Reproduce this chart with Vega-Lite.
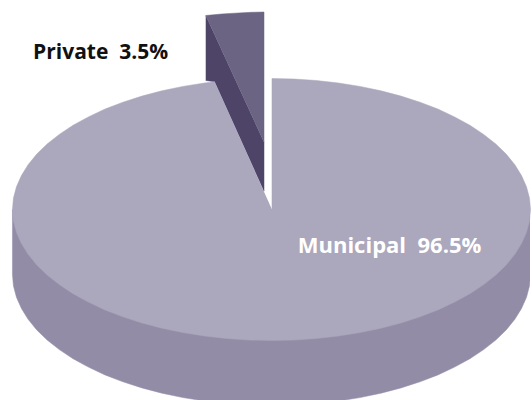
{
  "$schema": "https://vega.github.io/schema/vega-lite/v6.json",
  "width": 532,
  "height": 400,
  "padding": 0,
  "autosize": {"type": "fit", "contains": "padding"},
  "background": "white",
  "view": {"stroke": null},
  "datasets": {
    "municipalSide": [
      {"x":-260,"y":0},{"x":-260,"y":-65},{"x":-259,"y":-76.4},{"x":-256,"y":-87.7},{"x":-251,"y":-98.9},{"x":-244.3,"y":-109.8},{"x":-235.6,"y":-120.4},{"x":-225.2,"y":-130.5},{"x":-213,"y":-140.1},{"x":-199.2,"y":-149.2},{"x":-183.8,"y":-157.6},{"x":-167.1,"y":-165.4},{"x":-149.1,"y":-172.3},{"x":-130,"y":-178.4},{"x":-109.9,"y":-183.7},{"x":-88.9,"y":-188.1},{"x":-67.3,"y":-191.5},{"x":-45.1,"y":-194},{"x":-22.7,"y":-195.5},{"x":0,"y":-196},
      {"x":22.7,"y":-195.5},{"x":45.1,"y":-194},{"x":67.3,"y":-191.5},{"x":88.9,"y":-188.1},{"x":109.9,"y":-183.7},{"x":130,"y":-178.4},{"x":149.1,"y":-172.3},{"x":167.1,"y":-165.4},{"x":183.8,"y":-157.6},{"x":199.2,"y":-149.2},{"x":213,"y":-140.1},{"x":225.2,"y":-130.5},{"x":235.6,"y":-120.4},{"x":244.3,"y":-109.8},{"x":251,"y":-98.9},{"x":256,"y":-87.7},{"x":259,"y":-76.4},{"x":260,"y":-65},{"x":260,"y":0}
    ],
    "privateInner": [
      {"x":-66,"y":194},{"x":-7.5,"y":67.3},{"x":-7.5,"y":18.4},{"x":-57,"y":127.8},{"x":-66,"y":129}
    ],
    "privateTop": [
      {"x":-66,"y":194},{"x":-50,"y":195.5},{"x":-37,"y":196.3},{"x":-20,"y":197.2},{"x":-7.5,"y":197.5},{"x":-7.5,"y":67.3}
    ],
    "municipalTop": [
      {"x":0.5,"y":0},{"x":0.5,"y":131},{"x":22.7,"y":130.5},{"x":45.1,"y":129},{"x":67.3,"y":126.5},{"x":88.9,"y":123.1},{"x":109.9,"y":118.7},{"x":130,"y":113.4},{"x":149.1,"y":107.3},{"x":167.1,"y":100.4},{"x":183.8,"y":92.6},{"x":199.2,"y":84.2},{"x":213,"y":75.1},{"x":225.2,"y":65.5},{"x":235.6,"y":55.4},{"x":244.3,"y":44.8},{"x":251,"y":33.9},{"x":256,"y":22.7},{"x":259,"y":11.4},{"x":260,"y":0},
      {"x":259,"y":-11.4},{"x":256,"y":-22.7},{"x":251,"y":-33.9},{"x":244.3,"y":-44.8},{"x":235.6,"y":-55.4},{"x":225.2,"y":-65.5},{"x":213,"y":-75.1},{"x":199.2,"y":-84.2},{"x":183.8,"y":-92.6},{"x":167.1,"y":-100.4},{"x":149.1,"y":-107.3},{"x":130,"y":-113.4},{"x":109.9,"y":-118.7},{"x":88.9,"y":-123.1},{"x":67.3,"y":-126.5},{"x":45.1,"y":-129},{"x":22.7,"y":-130.5},{"x":0,"y":-131},
      {"x":-22.7,"y":-130.5},{"x":-45.1,"y":-129},{"x":-67.3,"y":-126.5},{"x":-88.9,"y":-123.1},{"x":-109.9,"y":-118.7},{"x":-130,"y":-113.4},{"x":-149.1,"y":-107.3},{"x":-167.1,"y":-100.4},{"x":-183.8,"y":-92.6},{"x":-199.2,"y":-84.2},{"x":-213,"y":-75.1},{"x":-225.2,"y":-65.5},{"x":-235.6,"y":-55.4},{"x":-244.3,"y":-44.8},{"x":-251,"y":-33.9},{"x":-256,"y":-22.7},{"x":-259,"y":-11.4},{"x":-260,"y":0},
      {"x":-259,"y":11.4},{"x":-256,"y":22.7},{"x":-251,"y":33.9},{"x":-244.3,"y":44.8},{"x":-235.6,"y":55.4},{"x":-225.2,"y":65.5},{"x":-213,"y":75.1},{"x":-199.2,"y":84.2},{"x":-183.8,"y":92.6},{"x":-167.1,"y":100.4},{"x":-149.1,"y":107.3},{"x":-130,"y":113.4},{"x":-109.9,"y":118.7},{"x":-88.9,"y":123.1},{"x":-67.3,"y":126.5},{"x":-57,"y":127.8}
    ],
    "privateLabel": [
      {"x":-171.5,"y":157,"label":"Private\u00a0 3.5%"}
    ],
    "municipalLabel": [
      {"x":118.5,"y":-36,"label":"Municipal\u00a0 96.5%"}
    ]
  },
  "encoding": {
    "x": {"field":"x","type":"quantitative","axis":null,"scale":{"domain":[-272.5,259.5],"nice":false,"zero":false}},
    "y": {"field":"y","type":"quantitative","axis":null,"scale":{"domain":[-190.5,209.5],"nice":false,"zero":false}}
  },
  "layer": [
    {"data":{"name":"municipalSide"},"mark":{"type":"line","fill":"#938ca7","stroke":"#938ca7","strokeWidth":0.5,"clip":true},"encoding":{"order":{"value":null}}},
    {"data":{"name":"privateInner"},"mark":{"type":"line","fill":"#4e4468","stroke":"#4e4468","strokeWidth":0.5},"encoding":{"order":{"value":null}}},
    {"data":{"name":"privateTop"},"mark":{"type":"line","fill":"#6b6482","stroke":"#6b6482","strokeWidth":0.5},"encoding":{"order":{"value":null}}},
    {"data":{"name":"municipalTop"},"mark":{"type":"line","fill":"#aba7bd","stroke":"#aba7bd","strokeWidth":0.5},"encoding":{"order":{"value":null}}},
    {"data":{"name":"privateLabel"},"mark":{"type":"text","font":"Open Sans","fontWeight":"bold","fontSize":21,"color":"#111111","align":"center","baseline":"middle"},
     "encoding":{"text":{"field":"label"}}},
    {"data":{"name":"municipalLabel"},"mark":{"type":"text","font":"Open Sans","fontWeight":"bold","fontSize":22,"color":"#ffffff","align":"center","baseline":"middle"},
     "encoding":{"text":{"field":"label"}}}
  ]
}
